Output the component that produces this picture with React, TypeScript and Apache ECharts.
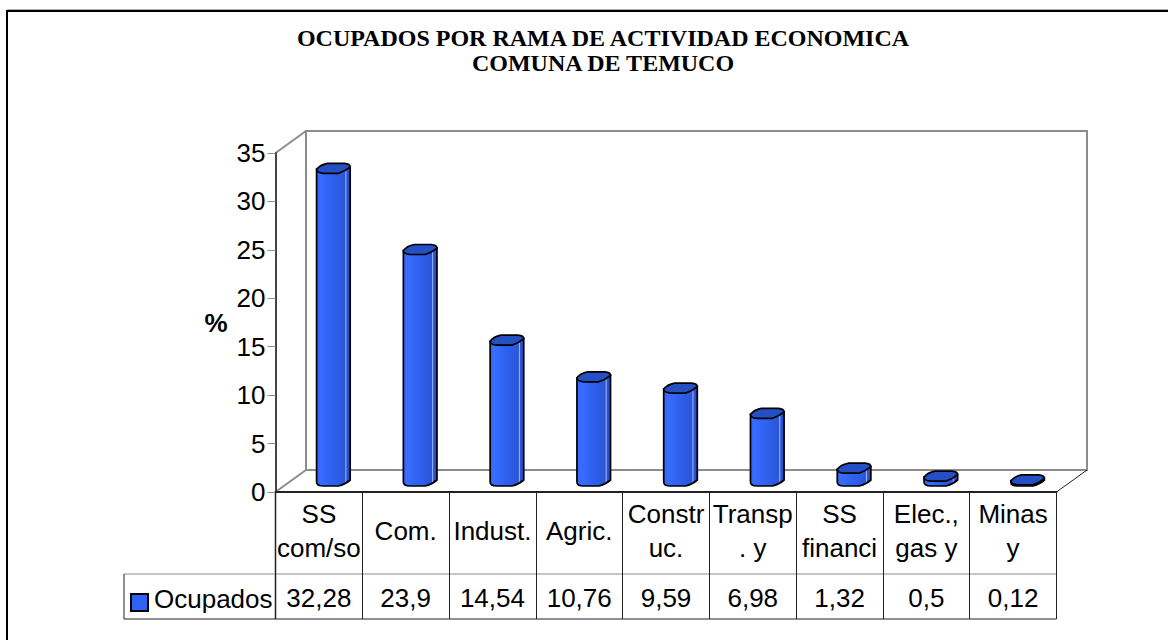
import React, { useEffect, useRef } from "react";
import * as echarts from "echarts";

const titleLines = ["OCUPADOS POR RAMA DE ACTIVIDAD ECONOMICA", "COMUNA DE TEMUCO"];
const categories = ["SS\ncom/so", "Com.", "Indust.", "Agric.", "Constr\nuc.", "Transp\n. y", "SS\nfinanci", "Elec.,\ngas y", "Minas\ny"];
const values = [32.28, 23.9, 14.54, 10.76, 9.59, 6.98, 1.32, 0.5, 0.12];
const valueLabels = ["32,28", "23,9", "14,54", "10,76", "9,59", "6,98", "1,32", "0,5", "0,12"];
const seriesName = "Ocupados";
const yTicks = { min: 0, max: 35, interval: 5 };

const L = 275.5, T = 153, W = 781, H = 339, DX = 30.5, DY = 22;
const GREY = "#8c8c8c";
const FONT = "'Liberation Sans', Arial, sans-serif";
const FS = 26;

const renderCylinder = (params: any, api: any) => {
  const idx = api.value(0);
  const top = api.coord([idx, api.value(1)]);
  const base = api.coord([idx, 0]);
  const cx = top[0] + 14.5;
  const hw = 16.8, ry = 5;
  const yTop = top[1] - DY / 2;
  const yBase = base[1] - DY / 2;
  const h = yBase - yTop;
  const body = new echarts.graphic.LinearGradient(0, 0, 1, 0, [
    { offset: 0, color: "#2f62f4" },
    { offset: 0.1, color: "#3a6cff" },
    { offset: 0.5, color: "#2e60ee" },
    { offset: 0.84, color: "#2a55d6" },
    { offset: 0.87, color: "#9db6ff" },
    { offset: 0.9, color: "#2a55d6" },
    { offset: 1, color: "#2448b8" },
  ]);
  const bodyPath = `M${-hw} 1 L${-hw} ${h + 1} Q${-hw} ${h + ry} -10 ${h + ry} L5 ${h + ry} Q${hw * 0.7} ${h + 3.5} ${hw} ${h - 1} L${hw} -1.5 Z`;
  const topPath = `M${-hw} 1 Q${-hw * 0.8} -3.5 -6 ${-ry} L${hw * 0.65} ${-ry} Q${hw} -4.5 ${hw} -1.5 Q${hw * 0.7} 3 5 ${ry} L-10 ${ry} Q${-hw} 4.5 ${-hw} 1 Z`;
  return {
    type: "group",
    children: [
      {
        type: "path",
        x: cx,
        y: yTop,
        shape: { pathData: bodyPath, layout: "cover", x: -hw, y: -1.5, width: 2 * hw, height: h + ry + 1.5 },
        style: { fill: body, stroke: "#000", lineWidth: 1.7 },
      },
      {
        type: "path",
        x: cx,
        y: yTop,
        shape: { pathData: topPath, layout: "cover", x: -hw, y: -ry, width: 2 * hw, height: 2 * ry },
        style: { fill: "#2450c4", stroke: "#000", lineWidth: 1.7 },
      },
    ],
  };
};

export default function App() {
  const ref = useRef<HTMLDivElement>(null);
  useEffect(() => {
    const chart = echarts.init(ref.current!, undefined, { renderer: "svg" });
    const line = (pts: number[][], color: string, w: number) => ({
      type: "polyline",
      shape: { points: pts },
      style: { stroke: color, lineWidth: w, fill: "none" },
      silent: true,
    });
    chart.setOption({
      animation: false,
      backgroundColor: "#fff",
      title: {
        text: titleLines.join("\n"),
        left: 598,
        top: 20,
        textAlign: "center",
        textStyle: { fontFamily: "'Liberation Serif', serif", fontWeight: "bold", fontSize: 24, lineHeight: 25, color: "#000" },
      },
      grid: { left: L, top: T, width: W, height: H },
      xAxis: [
        {
          type: "category",
          data: categories,
          axisLine: { lineStyle: { color: "#222", width: 2 } },
          axisTick: { show: true, length: 127, lineStyle: { color: "#222", width: 1 } },
          axisLabel: { color: "#000", fontFamily: FONT, fontSize: FS, lineHeight: 34, margin: 39, interval: 0, verticalAlign: "middle" },
        },
        {
          type: "category",
          position: "bottom",
          offset: 84,
          data: valueLabels,
          axisLine: { show: false },
          axisTick: { show: false },
          axisLabel: { color: "#000", fontFamily: FONT, fontSize: FS, margin: 22, interval: 0, verticalAlign: "middle" },
        },
      ],
      yAxis: {
        type: "value",
        min: yTicks.min,
        max: yTicks.max,
        interval: yTicks.interval,
        name: "%",
        nameLocation: "middle",
        nameGap: 48,
        nameRotate: 0,
        nameTextStyle: { fontFamily: FONT, fontWeight: "bold", fontSize: FS, color: "#000" },
        axisLine: { show: true, lineStyle: { color: "#444", width: 2 } },
        axisTick: { show: true, length: 8, lineStyle: { color: GREY } },
        axisLabel: { color: "#000", fontFamily: FONT, fontSize: FS, margin: 10 },
        splitLine: { show: false },
      },
      series: [
        {
          name: seriesName,
          type: "custom",
          clip: false,
          xAxisIndex: 0,
          data: values.map((v, i) => [i, v]),
          encode: { x: 0, y: 1 },
          renderItem: renderCylinder,
          z: 5,
        },
      ],
      graphic: [
        line([[7, 660], [7, 11], [1180, 11]], "#000", 2),
        line([[7, 9.5], [1180, 9.5]], "#b0b0b0", 1),
        line([[L + DX, T + H - DY], [L + DX, T - DY], [L + W + DX, T - DY], [L + W + DX, T + H - DY], [L + DX, T + H - DY]], GREY, 2),
        line([[L, T], [L + DX, T - DY]], GREY, 2),
        line([[L, T + H], [L + DX, T + H - DY]], GREY, 2),
        line([[L + W, T + H], [L + W + DX, T + H - DY]], "#222", 1),
        line([[L, T + H], [L, 619]], GREY, 2),
        line([[124, 574], [L + W, 574]], GREY, 1),
        line([[124, 574], [124, 619], [L + W, 619], [L + W, T + H]], "#222", 1),
        { type: "rect", shape: { x: 131, y: 594, width: 17, height: 17 }, style: { fill: "#2f62f4", stroke: "#000", lineWidth: 2 }, silent: true },
        { type: "text", x: 154, y: 599, style: { text: seriesName, fontFamily: FONT, fontSize: FS, fill: "#000", textVerticalAlign: "middle" }, silent: true },
      ],
    });
    return () => chart.dispose();
  }, []);
  return <div ref={ref} style={{ position: "fixed", left: 0, top: 0, width: 1168, height: 640 }} />;
}
